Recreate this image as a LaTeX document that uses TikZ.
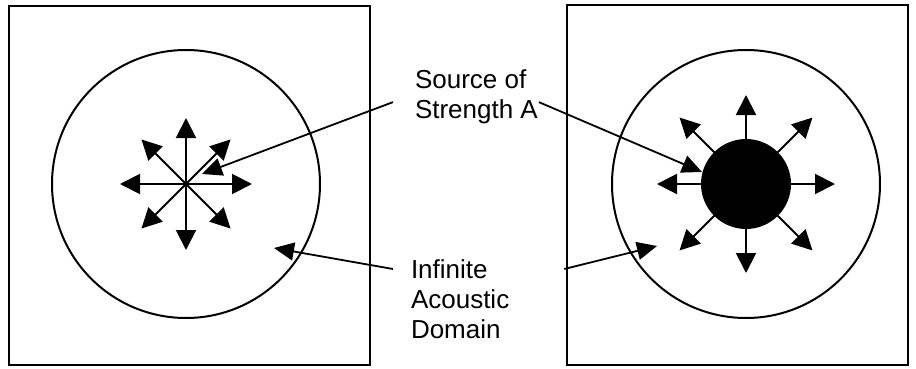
\documentclass[tikz,border=0pt]{standalone}
\usepackage{fontspec}
\setmainfont{Liberation Sans}
\usetikzlibrary{arrows.meta, calc}
\tikzset{
  every picture/.style={line width=2pt},
  panel/.style={draw, line width=1.8pt},
  field/.style={draw, line width=2pt},
  ray/.style={-{Triangle[length=20pt, width=20pt]}, line width=2pt},
  pointer/.style={-{Triangle[length=20pt, width=18pt]}, line width=1.8pt},
  notetext/.style={font=\fontsize{26}{30}\selectfont, align=left, inner sep=0pt, anchor=north west},
}

\begin{document}
\begin{tikzpicture}[x=1pt, y=-1pt]
  \useasboundingbox (0,0) rectangle (916,369);
  % two panels
  \draw[panel] (9,6) rectangle (370,365);
  \draw[panel] (567,5) rectangle (908,365);
  \coordinate (lc) at (186,184);
  \coordinate (rc) at (746,184);
  \draw[field] (lc) circle[radius=134pt];
  \draw[field] (rc) circle[radius=134pt];
  % point source
  \foreach \a in {0,90,180,270} \draw[ray] (lc) -- ++(\a:66);
  \foreach \a in {45,135,225,315} \draw[ray] (lc) -- ++(\a:63);
  % finite source
  \foreach \a in {0,90,180,270} \draw[ray] ($(rc)+(\a:45)$) -- ($(rc)+(\a:89)$);
  \foreach \a in {45,135,225,315} \draw[ray] ($(rc)+(\a:45)$) -- ($(rc)+(\a:94)$);
  \fill (rc) circle[radius=45pt];
  % labels
  \node[notetext] (src) at (414,69) {Source of\\Strength A};
  \node[notetext] (dom) at (410,259) {Infinite\\Acoustic\\Domain};
  \coordinate (lt) at (202,174);
  \coordinate (rt) at (702,172);
  \coordinate (ld) at (274,248);
  \coordinate (rd) at (657,246);
  \draw[pointer] ([xshift=-21pt, yshift=-5pt]src.west) -- (lt);
  \draw[pointer] ([yshift=-5pt]src.east) -- (rt);
  \draw[pointer] ([xshift=-17pt, yshift=-10pt]dom.north west) -- (ld);
  \draw[pointer] ([xshift=54pt, yshift=-10pt]dom.north east) -- (rd);
\end{tikzpicture}
\end{document}
